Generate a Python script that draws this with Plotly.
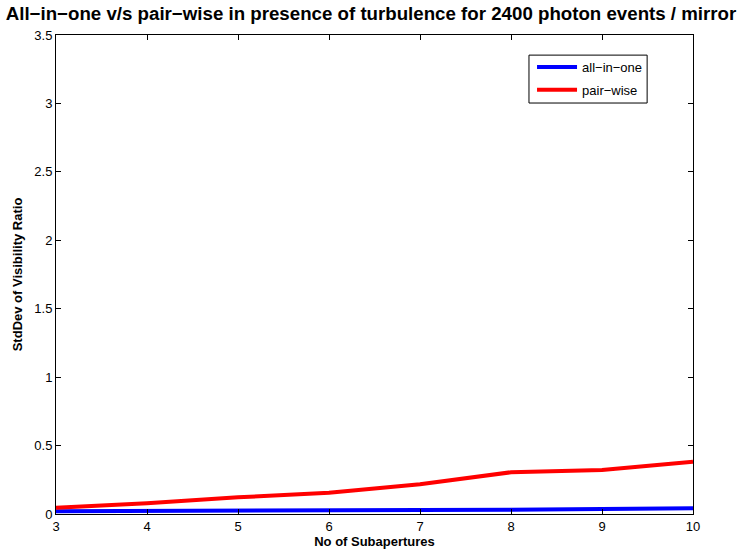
import plotly.graph_objects as go

subapertures = [3, 4, 5, 6, 7, 8, 9, 10]
all_in_one = [0.020, 0.024, 0.026, 0.026, 0.030, 0.031, 0.033, 0.042]
pair_wise = [0.045, 0.078, 0.122, 0.156, 0.217, 0.305, 0.322, 0.382]

x_ticks = [3, 4, 5, 6, 7, 8, 9, 10]
y_ticks = [0, 0.5, 1, 1.5, 2, 2.5, 3, 3.5]
y_tick_text = ["0", "0.5", "1", "1.5", "2", "2.5", "3", "3.5"]

FONT = "Liberation Sans"

fig = go.Figure()
fig.add_trace(go.Scatter(x=subapertures, y=all_in_one, mode="lines", name="all\u2212in\u2212one",
                         legendgroup="a", line=dict(color="#0000ff", width=4)))
fig.add_trace(go.Scatter(x=subapertures, y=pair_wise, mode="lines", name="pair\u2212wise",
                         legendgroup="b", line=dict(color="#ff0000", width=4)))

axis_common = dict(showline=True, linecolor="black", linewidth=1, mirror="ticks",
                   ticks="inside", ticklen=5, tickcolor="black", showgrid=False,
                   zeroline=False, automargin=False,
                   tickfont=dict(family=FONT, size=13, color="black"))

# legend frame
fig.add_shape(type="rect", xref="paper", yref="paper",
              x0=0.7425, x1=0.928, y0=0.858, y1=0.958,
              line=dict(color="black", width=1), fillcolor="white", layer="below")

fig.update_layout(
    width=742, height=552,
    margin=dict(l=56, r=49, t=35, b=38),
    paper_bgcolor="white", plot_bgcolor="white",
    font=dict(family=FONT, color="black"),
    title=dict(text="<b>All\u2212in\u2212one v/s pair\u2212wise in presence of turbulence for 2400 photon events / mirror</b>",
               x=0.5, xanchor="center", y=1 - 13 / 552, yanchor="middle",
               font=dict(family=FONT, size=18.7, color="black")),
    xaxis=dict(range=[3, 10], tickvals=x_ticks,
               title=dict(text="<b>No of Subapertures</b>", standoff=3,
                          font=dict(family=FONT, size=13, color="black")),
               **axis_common),
    yaxis=dict(range=[0, 3.5], tickvals=y_ticks, ticktext=y_tick_text,
               title=dict(text="<b>StdDev of Visibility Ratio</b>", standoff=8,
                          font=dict(family=FONT, size=13, color="black")),
               **axis_common),
    legend=dict(x=0.7473, y=0.9645, xanchor="left", yanchor="top",
                bgcolor="rgba(0,0,0,0)", borderwidth=0,
                font=dict(family=FONT, size=13, color="black"),
                tracegroupgap=3, itemwidth=40),
    showlegend=True,
)

fig.write_html("out.html")
